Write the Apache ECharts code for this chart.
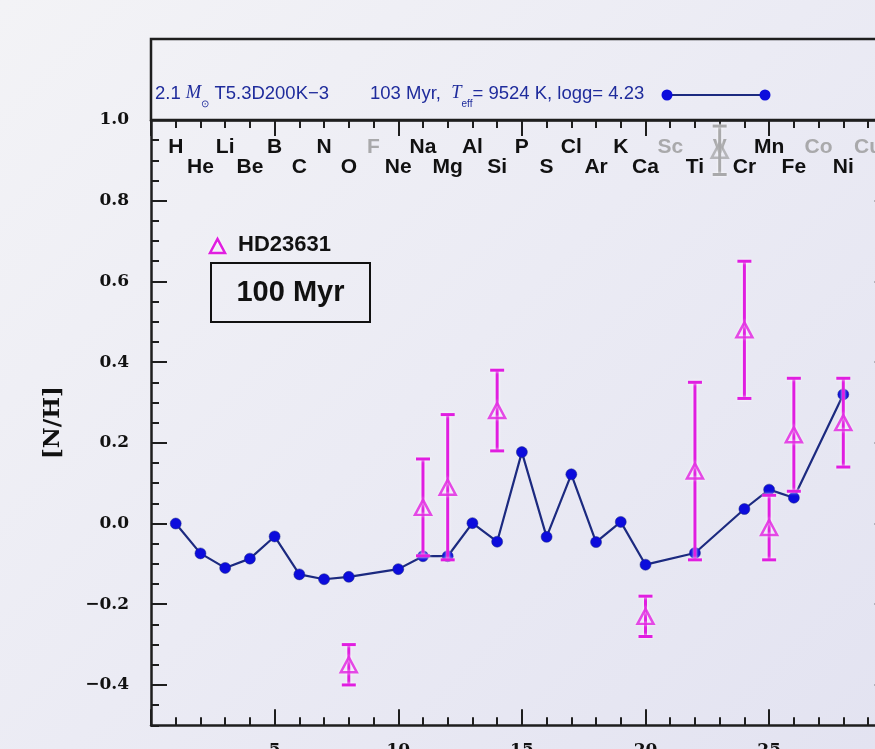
<!DOCTYPE html>
<html>
<head>
<meta charset="utf-8">
<script src="https://cdn.jsdelivr.net/npm/echarts@6/dist/echarts.min.js"></script>
<style>
  html, body { margin: 0; padding: 0; }
  body { background: linear-gradient(135deg, #f3f3f6 0%, #ebebf4 50%, #e3e3f1 100%); }
  #chart { width: 875px; height: 749px; }
</style>
</head>
<body>
<div id="chart"></div>
<script>
  // element symbols, index = atomic number Z
  var elemNames = ['', 'H','He','Li','Be','B','C','N','O','F','Ne','Na','Mg','Al','Si','P','S','Cl','Ar','K','Ca','Sc','Ti','V','Cr','Mn','Fe','Co','Ni','Cu'];
  var grayElems = [9, 21, 23, 27, 29];

  // model 2.1 Msun T5.3D200K-3 at 103 Myr
  var modelZ  = [1, 2, 3, 4, 5, 6, 7, 8, 10, 11, 12, 13, 14, 15, 16, 17, 18, 19, 20, 22, 24, 25, 26, 28];
  var modelNH = [0.00, -0.074, -0.110, -0.087, -0.032, -0.126, -0.138, -0.132, -0.113, -0.081, -0.081, 0.001,
                 -0.045, 0.177, -0.033, 0.122, -0.046, 0.004, -0.102, -0.073, 0.036, 0.084, 0.064, 0.320];

  // HD23631 observed abundances
  var obsZ   = [8, 11, 12, 14, 20, 22, 24, 25, 26, 28];
  var obsNH  = [-0.35, 0.04, 0.09, 0.28, -0.23, 0.13, 0.48, -0.01, 0.22, 0.25];
  var obsErr = [0.05, 0.12, 0.18, 0.10, 0.05, 0.22, 0.17, 0.08, 0.14, 0.11];

  // greyed-out point (V)
  var grayZ   = [23];
  var grayNH  = [0.925];
  var grayErr = [0.06];

  var xMajor = [0, 5, 10, 15, 20, 25, 30];
  var xLabels = [5, 10, 15, 20, 25, 30];
  var xMinor = [];
  for (var i = 0; i <= 30; i++) xMinor.push(i);
  var xElem = [];
  for (var j = 1; j <= 29; j++) xElem.push(j);
  var yMajor = [-0.4, -0.2, 0.0, 0.2, 0.4, 0.6, 0.8, 1.0];
  var yMinor = [];
  for (var k = -10; k <= 20; k++) yMinor.push(+(k * 0.05).toFixed(2));

  var MAG = '#e01ee0';
  var GRAY = '#a9a9ab';
  var AX = '#1e1e1e';
  var serif = '"DejaVu Serif", "Liberation Serif", serif';
  var sans = '"Liberation Sans", Arial, Helvetica, sans-serif';

  var myChart = echarts.init(document.getElementById('chart'));

  function zip3(a, b, c) {
    return a.map(function (v, i) { return [v, b[i], c[i]]; });
  }

  function errBars(color) {
    return function (params, api) {
      var x = api.value(0), y = api.value(1), e = api.value(2);
      var top = api.coord([x, y + e]);
      var bot = api.coord([x, y - e]);
      var hw = 7;
      var st = { stroke: color, lineWidth: 3, shadowBlur: 3, shadowColor: 'rgba(255,255,255,0.9)' };
      return {
        type: 'group',
        children: [
          { type: 'line', shape: { x1: top[0], y1: top[1], x2: bot[0], y2: bot[1] }, style: st },
          { type: 'line', shape: { x1: top[0] - hw, y1: top[1], x2: top[0] + hw, y2: top[1] }, style: st },
          { type: 'line', shape: { x1: bot[0] - hw, y1: bot[1], x2: bot[0] + hw, y2: bot[1] }, style: st }
        ]
      };
    };
  }

  function xAx(opts) {
    var base = {
      type: 'value', gridIndex: 0, min: 0, max: 30,
      splitLine: { show: false },
      axisLine: { show: false, onZero: false },
      axisLabel: { show: false },
      axisTick: { show: false }
    };
    return Object.assign(base, opts);
  }
  function yAx(opts) {
    var base = {
      type: 'value', gridIndex: 0, min: -0.5, max: 1.0,
      splitLine: { show: false },
      axisLine: { show: false, onZero: false },
      axisLabel: { show: false },
      axisTick: { show: false }
    };
    return Object.assign(base, opts);
  }

  var elemRich = {
    o:  { fontFamily: sans, fontWeight: 'bold', fontSize: 21, color: '#111' },
    og: { fontFamily: sans, fontWeight: 'bold', fontSize: 21, color: GRAY },
    e:  { fontFamily: sans, fontWeight: 'bold', fontSize: 21, color: '#111', padding: [20, 0, 0, 0] },
    eg: { fontFamily: sans, fontWeight: 'bold', fontSize: 21, color: GRAY, padding: [20, 0, 0, 0] }
  };

  var headRich = {
    a: { fontFamily: sans, fontSize: 18.5, fill: '#1f2c9c', lineHeight: 20 },
    m: { fontFamily: '"Liberation Serif", serif', fontStyle: 'italic', fontSize: 18.5, fill: '#1f2c9c', lineHeight: 20 },
    s: { fontFamily: sans, fontSize: 10, fill: '#1f2c9c', lineHeight: 20, verticalAlign: 'bottom', padding: [0, 0, -6, 0] }
  };

  var option = {
    animation: false,
    backgroundColor: 'transparent',
    grid: [
      { left: 151, top: 120, width: 741.75, height: 605.3, outerBoundsMode: 'none' },
      { left: 151, top: 39, width: 741.75, height: 81, outerBoundsMode: 'none', show: true, borderColor: AX, borderWidth: 2.5, backgroundColor: 'transparent' }
    ],
    xAxis: [
      // bottom, major ticks + labels
      xAx({
        position: 'bottom',
        axisLine: { show: true, onZero: false, lineStyle: { color: AX, width: 2.5 } },
        axisTick: { show: true, inside: true, length: 16, customValues: xMajor, lineStyle: { color: AX, width: 2 } },
        axisLabel: { show: true, customValues: xLabels, margin: 17, fontFamily: serif, fontWeight: 'bold', fontSize: 17, color: '#111' }
      }),
      // bottom minor ticks
      xAx({
        position: 'bottom',
        axisTick: { show: true, inside: true, length: 8, customValues: xMinor, lineStyle: { color: AX, width: 2 } }
      }),
      // top (1.0 line), major ticks + element names
      xAx({
        position: 'top',
        axisLine: { show: true, onZero: false, lineStyle: { color: AX, width: 2.5 } },
        axisTick: { show: true, inside: true, length: 16, customValues: xMajor, lineStyle: { color: AX, width: 2 } },
        axisLabel: {
          show: true, inside: true, margin: 17, customValues: xElem,
          formatter: function (v) {
            var z = Math.round(v);
            var g = grayElems.indexOf(z) >= 0;
            var key = (z % 2 === 1) ? (g ? 'og' : 'o') : (g ? 'eg' : 'e');
            return '{' + key + '|' + elemNames[z] + '}';
          },
          rich: elemRich
        }
      }),
      // top minor ticks
      xAx({
        position: 'top',
        axisTick: { show: true, inside: true, length: 8, customValues: xMinor, lineStyle: { color: AX, width: 2 } }
      }),
      // header strip
      { type: 'value', gridIndex: 1, min: 0, max: 30, show: false }
    ],
    yAxis: [
      yAx({
        position: 'left',
        name: '[N/H]', nameLocation: 'middle', nameGap: 86, nameRotate: 90,
        nameTextStyle: { fontFamily: serif, fontWeight: 'bold', fontSize: 23, color: '#111' },
        axisLine: { show: true, onZero: false, lineStyle: { color: AX, width: 2.5 } },
        axisTick: { show: true, inside: true, length: 16, customValues: yMajor, lineStyle: { color: AX, width: 2 } },
        axisLabel: {
          show: true, customValues: yMajor, margin: 22,
          fontFamily: serif, fontWeight: 'bold', fontSize: 17, color: '#111',
          formatter: function (v) { return v < 0 ? '\u2212' + Math.abs(v).toFixed(1) : v.toFixed(1); }
        }
      }),
      yAx({
        position: 'left',
        axisTick: { show: true, inside: true, length: 8, customValues: yMinor, lineStyle: { color: AX, width: 2 } }
      }),
      yAx({
        position: 'right',
        axisLine: { show: true, onZero: false, lineStyle: { color: AX, width: 2.5 } },
        axisTick: { show: true, inside: true, length: 18, customValues: yMajor, lineStyle: { color: AX, width: 2 } }
      }),
      yAx({
        position: 'right',
        axisTick: { show: true, inside: true, length: 8, customValues: yMinor, lineStyle: { color: AX, width: 2 } }
      }),
      { type: 'value', gridIndex: 1, min: 1.0, max: 1.2, show: false }
    ],
    series: [
      {
        name: 'model',
        type: 'line',
        xAxisIndex: 0, yAxisIndex: 0,
        data: modelZ.map(function (z, i) { return [z, modelNH[i]]; }),
        symbol: 'circle', symbolSize: 11,
        lineStyle: { color: '#1c2a80', width: 2.2 },
        itemStyle: { color: '#0c0cdc', borderColor: '#1c2a80', borderWidth: 0.5 },
        z: 3
      },
      {
        name: 'V err',
        type: 'custom',
        xAxisIndex: 0, yAxisIndex: 0,
        renderItem: errBars(GRAY),
        data: zip3(grayZ, grayNH, grayErr),
        z: 4
      },
      {
        name: 'V',
        type: 'scatter',
        xAxisIndex: 0, yAxisIndex: 0,
        data: grayZ.map(function (z, i) { return [z, grayNH[i]]; }),
        symbol: 'triangle', symbolSize: [16, 15],
        itemStyle: { color: 'rgba(0,0,0,0)', borderColor: GRAY, borderWidth: 2.5 },
        z: 4
      },
      {
        name: 'HD23631 err',
        type: 'custom',
        xAxisIndex: 0, yAxisIndex: 0,
        renderItem: errBars(MAG),
        data: zip3(obsZ, obsNH, obsErr),
        z: 5
      },
      {
        name: 'HD23631',
        type: 'scatter',
        xAxisIndex: 0, yAxisIndex: 0,
        data: obsZ.map(function (z, i) { return [z, obsNH[i]]; }),
        symbol: 'triangle', symbolSize: [16, 15],
        itemStyle: { color: 'rgba(0,0,0,0)', borderColor: MAG, borderWidth: 2.5, shadowBlur: 3, shadowColor: 'rgba(255,255,255,0.9)' },
        z: 6
      }
    ],
    graphic: [
      // header legend
      {
        type: 'text', left: 155, top: 84,
        style: { text: '{a|2.1 }{m|M}{s|\u2299}{a| T5.3D200K\u22123}', rich: headRich }
      },
      {
        type: 'text', left: 370, top: 84,
        style: { text: '{a|103 Myr,  }{m|T}{s|eff}{a|= 9524 K, logg= 4.23}', rich: headRich }
      },
      { type: 'line', shape: { x1: 667, y1: 95, x2: 765, y2: 95 }, style: { stroke: '#1c2a80', lineWidth: 2 } },
      { type: 'circle', shape: { cx: 667, cy: 95, r: 5.5 }, style: { fill: '#0c0cdc' } },
      { type: 'circle', shape: { cx: 765, cy: 95, r: 5.5 }, style: { fill: '#0c0cdc' } },
      // HD23631 key
      {
        type: 'polygon', shape: { points: [[210, 253], [225, 253], [217.5, 239]] },
        style: { fill: 'none', stroke: MAG, lineWidth: 2.5, shadowBlur: 3, shadowColor: 'rgba(255,255,255,0.9)' }
      },
      {
        type: 'text', left: 238, top: 234,
        style: { text: 'HD23631', fontFamily: sans, fontWeight: 'bold', fontSize: 22, fill: '#111' }
      },
      // age box
      { type: 'rect', shape: { x: 211, y: 263, width: 159, height: 59 }, style: { fill: 'none', stroke: '#111', lineWidth: 2 } },
      {
        type: 'text', x: 290.5, y: 293,
        style: { text: '100 Myr', fontFamily: sans, fontWeight: 'bold', fontSize: 29, fill: '#111', align: 'center', verticalAlign: 'middle' }
      }
    ]
  };

  myChart.setOption(option);
</script>
</body>
</html>
